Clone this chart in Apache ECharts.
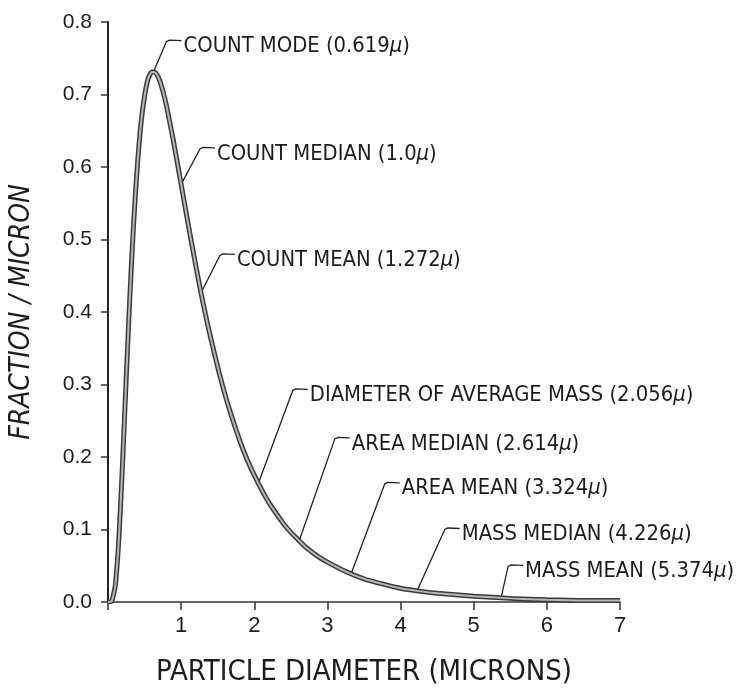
<!DOCTYPE html>
<html>
<head>
<meta charset="utf-8">
<script src="https://cdn.jsdelivr.net/npm/echarts@6/dist/echarts.min.js"></script>
<style>
  html, body { margin: 0; padding: 0; background: #ffffff; }
  #chart { width: 737px; height: 692px; }
</style>
</head>
<body>
<div id="chart"></div>
<script>
// Size distribution curve: fraction per micron against particle diameter
const diameters = [0, 0.05, 0.1, 0.15, 0.2, 0.25, 0.3, 0.35, 0.4, 0.45, 0.5, 0.55, 0.6, 0.65, 0.7, 0.75, 0.8, 0.9,
  1.0, 1.1, 1.2, 1.3, 1.4, 1.5, 1.6, 1.7, 1.8, 1.9, 2.0, 2.1, 2.2, 2.3, 2.4, 2.5, 2.6, 2.7, 2.8, 2.9,
  3.0, 3.25, 3.5, 3.75, 4.0, 4.25, 4.5, 5.0, 5.5, 6.0, 6.5, 7.0];
const fractions = [0, 0.001, 0.023, 0.090, 0.194, 0.311, 0.424, 0.522, 0.600, 0.659, 0.698, 0.722, 0.731, 0.730, 0.721, 0.705, 0.684, 0.633,
  0.576, 0.519, 0.464, 0.412, 0.366, 0.324, 0.286, 0.253, 0.223, 0.197, 0.175, 0.155, 0.137, 0.122, 0.108, 0.096, 0.086, 0.076, 0.068, 0.061,
  0.055, 0.042, 0.032, 0.025, 0.019, 0.015, 0.012, 0.008, 0.005, 0.003, 0.002, 0.002];

// Named statistical diameters marked on the curve
const statNames = ['COUNT MODE', 'COUNT MEDIAN', 'COUNT MEAN', 'DIAMETER OF AVERAGE MASS',
  'AREA MEDIAN', 'AREA MEAN', 'MASS MEDIAN', 'MASS MEAN'];
const statValues = ['0.619', '1.0', '1.272', '2.056', '2.614', '3.324', '4.226', '5.374'];

// Axis tick values
const xTicks = [1, 2, 3, 4, 5, 6, 7];
const yTicks = [0.0, 0.1, 0.2, 0.3, 0.4, 0.5, 0.6, 0.7, 0.8];

// Upper end of each leader line, in axis units
const leaderTops = [[0.80, 0.773], [1.257, 0.625], [1.53, 0.478], [2.527, 0.292],
  [3.101, 0.225], [3.784, 0.163], [4.604, 0.100], [5.47, 0.049]];

// Height of the curve at a diameter, read along the plotted polyline
function curveAt(d) {
  for (let i = 1; i < diameters.length; i++) {
    if (d <= diameters[i]) {
      const t = (d - diameters[i - 1]) / (diameters[i] - diameters[i - 1]);
      return fractions[i - 1] + t * (fractions[i] - fractions[i - 1]);
    }
  }
  return fractions[fractions.length - 1];
}

const curveData = diameters.map((d, i) => [d, fractions[i]]);
const statData = statValues.map((v, i) => {
  const d = parseFloat(v);
  return [d, curveAt(d), leaderTops[i][0], leaderTops[i][1], i];
});

const ink = '#1c1c1c';
const narrow = '"Liberation Sans Narrow", "DejaVu Sans Condensed", "Liberation Sans", sans-serif';
const plain = '"Liberation Sans", Arial, sans-serif';

const chart = echarts.init(document.getElementById('chart'), null, { renderer: 'canvas' });

chart.setOption({
  backgroundColor: '#ffffff',
  animation: false,
  grid: { left: 108, right: 117, top: 22, bottom: 86, containLabel: false },
  xAxis: {
    type: 'value',
    min: 0,
    max: 7,
    interval: 1,
    name: 'PARTICLE DIAMETER (MICRONS)',
    nameLocation: 'middle',
    nameGap: 56,
    nameTextStyle: { fontFamily: narrow, fontSize: 29, color: ink },
    axisLine: { show: true, lineStyle: { color: '#333', width: 1.6 } },
    axisTick: { show: true, inside: false, length: 8, lineStyle: { color: '#333', width: 1.5 } },
    axisLabel: {
      margin: 13,
      fontFamily: plain,
      fontSize: 22,
      color: ink,
      formatter: v => (xTicks.indexOf(v) >= 0 ? String(v) : '')
    },
    splitLine: { show: false }
  },
  yAxis: {
    type: 'value',
    min: 0,
    max: 0.8,
    interval: 0.1,
    name: 'FRACTION / MICRON',
    nameLocation: 'middle',
    nameGap: 72,
    nameTextStyle: { fontFamily: narrow, fontSize: 28, fontStyle: 'italic', color: ink },
    axisLine: { show: true, lineStyle: { color: '#222', width: 2 } },
    axisTick: { show: true, inside: false, length: 7, lineStyle: { color: '#333', width: 1.5 } },
    axisLabel: {
      margin: 16,
      fontFamily: plain,
      fontSize: 21,
      color: ink,
      formatter: v => {
        const k = yTicks.findIndex(t => Math.abs(t - v) < 1e-6);
        return k >= 0 ? yTicks[k].toFixed(1) : '';
      }
    },
    splitLine: { show: false }
  },
  series: [
    {
      // leader lines and their captions
      type: 'custom',
      coordinateSystem: 'cartesian2d',
      clip: false,
      z: 1,
      encode: { x: [0, 2], y: [1, 3] },
      data: statData,
      renderItem: function (params, api) {
        const k = api.value(4);
        const p0 = api.coord([api.value(0), api.value(1)]);
        const p1 = api.coord([api.value(2), api.value(3)]);
        return {
          type: 'group',
          children: [
            {
              type: 'polyline',
              shape: {
                points: [p0, p1, [p1[0] + 3, p1[1] - 1.5], [p1[0] + 15, p1[1] - 1]]
              },
              style: { stroke: '#222', lineWidth: 1.3, fill: null }
            },
            {
              type: 'text',
              style: {
                x: p1[0] + 17,
                y: p1[1] + 5,
                text: statNames[k] + ' (' + statValues[k] + '{mu|μ})',
                fontFamily: narrow,
                fontSize: 21.8,
                fill: ink,
                verticalAlign: 'middle',
                align: 'left',
                rich: {
                  mu: { fontFamily: narrow, fontSize: 21.8, fontStyle: 'italic', fill: ink }
                }
              }
            }
          ]
        };
      }
    },
    {
      // dark outer edge of the curve
      type: 'line',
      data: curveData,
      smooth: 0.2,
      symbol: 'none',
      z: 2,
      lineStyle: { color: '#3a3a3a', width: 5 }
    },
    {
      // light core of the curve
      type: 'line',
      data: curveData,
      smooth: 0.2,
      symbol: 'none',
      z: 3,
      lineStyle: { color: '#b8b8b8', width: 2 }
    }
  ]
});
</script>
</body>
</html>
